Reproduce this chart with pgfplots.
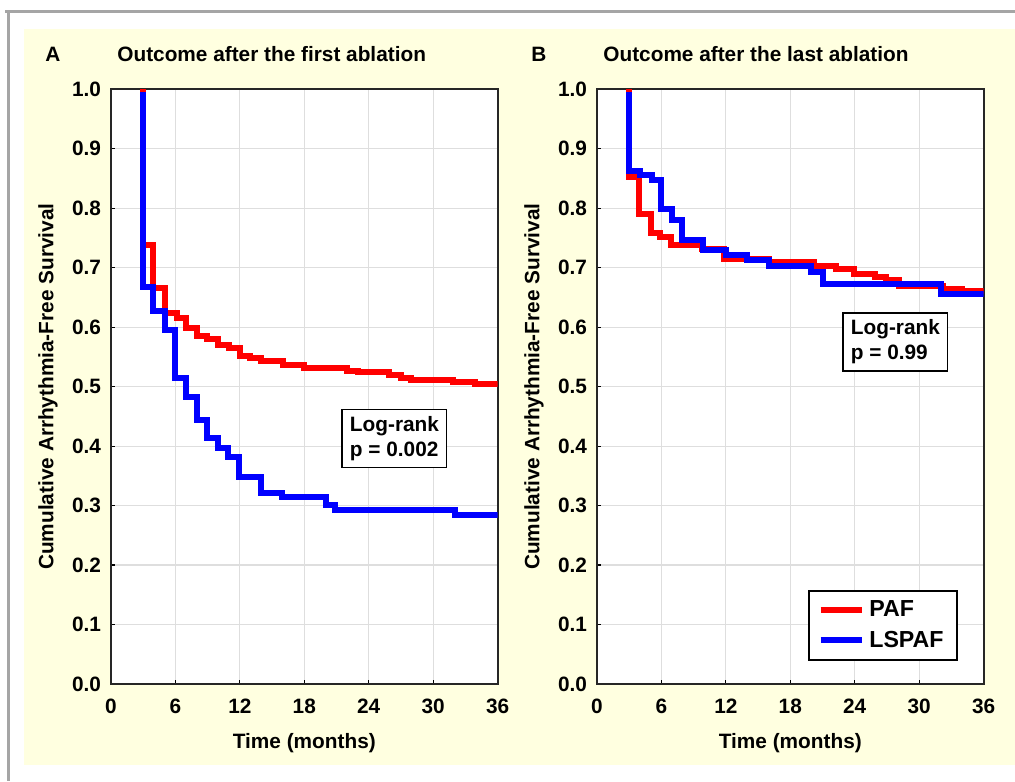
\documentclass[border=0pt]{standalone}
\usepackage{fontspec}
\setmainfont{Liberation Sans}
\usepackage{pgfplots}
\pgfplotsset{compat=1.18}
\definecolor{cream}{RGB}{255,255,224}
\definecolor{framegray}{RGB}{165,165,165}
\newcommand\fA{\fontsize{10.4pt}{12.5pt}\selectfont\bfseries}
\newcommand\fL{\fontsize{11.6pt}{13pt}\selectfont\bfseries}
\pgfplotsset{
 km/.style={
  scale only axis, width=193.3pt, height=297.35pt,
  xmin=0, xmax=36, ymin=0, ymax=1,
  xtick={0,6,12,18,24,30,36},
  ytick={0,0.1,0.2,0.3,0.4,0.5,0.6,0.7,0.8,0.9,1.0},
  tick pos=left, tick align=inside, major tick length=2.2pt,
  every tick/.style={black, line width=0.6pt},
  grid=major, major grid style={black!13, line width=0.6pt},
  axis line style={black!85, line width=1pt},
  /pgf/number format/assume math mode=true,
  tick label style={font=\fA},
  yticklabel style={/pgf/number format/fixed, /pgf/number format/fixed zerofill, /pgf/number format/precision=1, xshift=-1.5pt},
  xticklabel style={yshift=-4pt},
  label style={font=\fA},
  ylabel style={at={(axis description cs:-0.163,0.5)}, anchor=center},
  xlabel style={at={(axis description cs:0.5,-0.099)}, anchor=center},
  xlabel={Time (months)}, ylabel={Cumulative Arrhythmia-Free Survival},
  axis background/.style={fill=white},
  legend image code/.code={\draw[#1, line width=3pt] (0pt,0pt) -- (20.8pt,0pt);},
 },
 paf/.style={const plot, color=red, line width=3pt},
 lspaf/.style={const plot, color=blue, line width=3pt},
}
\begin{document}
\begin{tikzpicture}
\fill[white] (0,0) rectangle (507.5pt,390.5pt);
\useasboundingbox (0,0) rectangle (507.5pt,390.5pt);
\fill[cream] (12pt,8pt) rectangle (507.5pt,376pt);
\draw[framegray, line width=1.5pt] (2.5pt,384.65pt) -- (507.5pt,384.65pt);
\draw[framegray, line width=1.5pt] (4.35pt,384.65pt) -- (4.35pt,0pt);
\node[font=\fA, anchor=base west, inner sep=0pt] at (22.5pt,359.6pt) {A};
\node[font=\fA, anchor=base west, inner sep=0pt] at (58.5pt,359.6pt) {Outcome after the first ablation};
\node[font=\fA, anchor=base west, inner sep=0pt] at (265.5pt,359.6pt) {B};
\node[font=\fA, anchor=base west, inner sep=0pt] at (301.5pt,359.6pt) {Outcome after the last ablation};

\begin{axis}[km, at={(55.5pt,48.5pt)}, anchor=south west]
\addplot[paf] coordinates {
(3,1.0) (3,0.739) (3.95,0.666) (5.0,0.623) (6.1,0.616) (7.0,0.598) (8.0,0.586)
(8.9,0.580) (10.0,0.570) (11.0,0.565) (12.0,0.552) (12.9,0.548) (14.0,0.543)
(16.0,0.536) (18.0,0.532) (22.0,0.527) (23.0,0.524) (25.9,0.519) (27.0,0.515)
(27.9,0.512) (31.8,0.508) (33.9,0.504) (36,0.504)};
\addplot[lspaf] coordinates {
(3,0.995) (3,0.667) (3.95,0.628) (5.0,0.595) (6.0,0.515) (7.0,0.483) (8.0,0.444)
(8.9,0.413) (10.0,0.396) (10.9,0.381) (11.9,0.348) (14.0,0.322) (15.9,0.315)
(20.0,0.301) (20.9,0.292) (32.0,0.284) (36,0.284)};
\node[draw=black, line width=0.9pt, fill=white, font=\fA, align=left, anchor=north west,
      inner xsep=3.8pt, inner ysep=3.4pt] at (axis cs:21.46,0.463) {Log-rank\\p = 0.002};
\end{axis}

\begin{axis}[km, at={(298.5pt,48.5pt)}, anchor=south west,
  legend style={at={(axis description cs:0.9326,0.0387)}, anchor=south east,
    draw=black, line width=0.9pt, fill=white, font=\fL,
    inner xsep=4.5pt, inner ysep=3pt, row sep=1.5pt},
  legend cell align=left]
\addplot[paf] coordinates {
(3,1.0) (3,0.852) (3.95,0.791) (5.0,0.759) (5.9,0.752) (6.9,0.739) (9.8,0.731)
(11.8,0.714) (16.0,0.709) (20.2,0.703) (22.3,0.697) (23.9,0.690) (25.9,0.685)
(26.9,0.679) (28.1,0.669) (32.2,0.665) (34.0,0.661) (36,0.661)};
\addlegendentry{PAF}
\addplot[lspaf] coordinates {
(3,0.995) (3,0.863) (4.0,0.856) (5.1,0.847) (6.0,0.798) (7.0,0.781) (7.9,0.746)
(9.9,0.730) (12.0,0.722) (14.0,0.713) (16.0,0.703) (19.9,0.693) (21.0,0.673)
(32.0,0.655) (36,0.655)};
\addlegendentry{LSPAF}
\node[draw=black, line width=0.9pt, fill=white, font=\fA, align=left, anchor=north west,
      inner xsep=3.8pt, inner ysep=3.4pt] at (axis cs:22.85,0.626) {Log-rank\\p = 0.99};
\end{axis}
\end{tikzpicture}
\end{document}
